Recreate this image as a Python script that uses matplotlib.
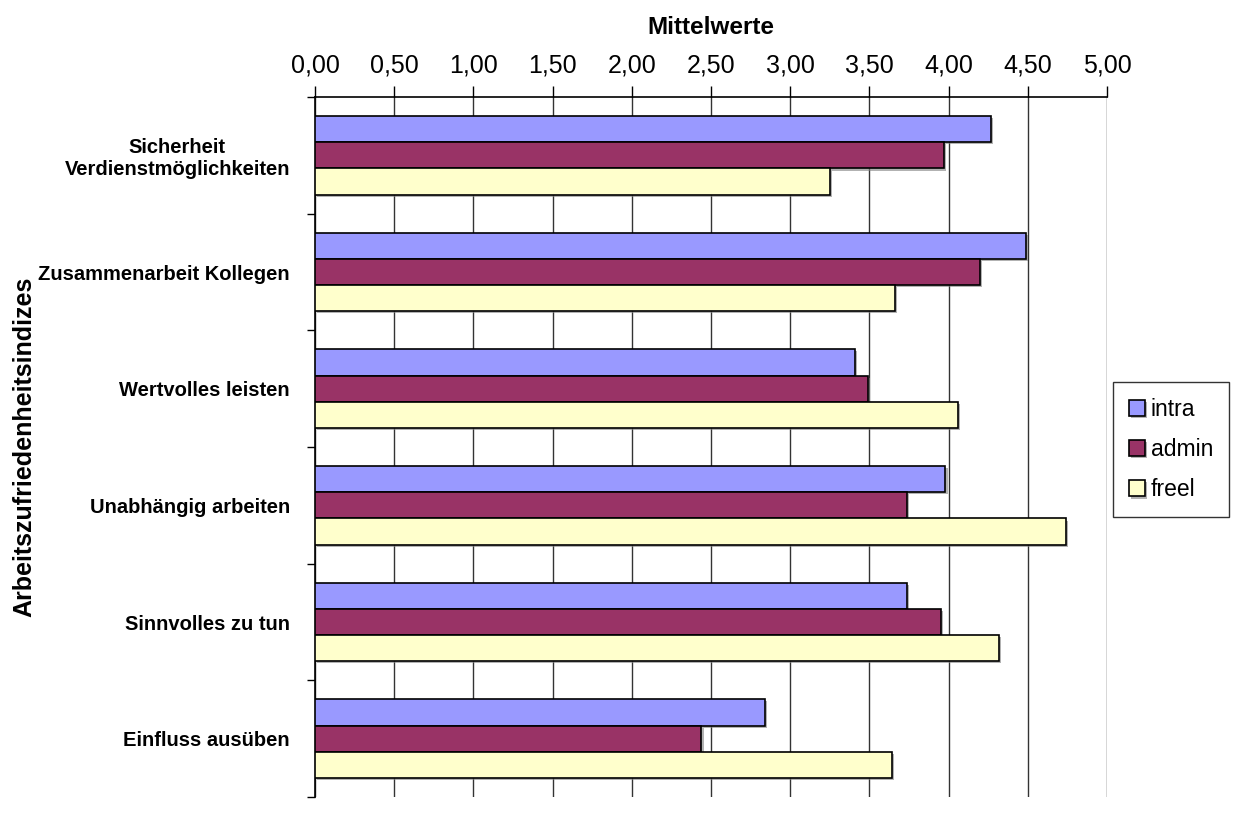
import matplotlib.pyplot as plt
import matplotlib.patheffects as pe
import numpy as np

plt.rcParams['font.family'] = ['Liberation Sans', 'DejaVu Sans']

# Arbeitszufriedenheitsindizes, Mittelwerte je Gruppe
kategorien = ["Sicherheit\nVerdienstmöglichkeiten", "Zusammenarbeit Kollegen",
              "Wertvolles leisten", "Unabhängig arbeiten",
              "Sinnvolles zu tun", "Einfluss ausüben"]
intra = [4.27, 4.49, 3.41, 3.98, 3.74, 2.84]
admin = [3.97, 4.20, 3.49, 3.74, 3.95, 2.44]
freel = [3.25, 3.66, 4.06, 4.74, 4.32, 3.64]

gruppen = ["intra", "admin", "freel"]
farben = ["#9999ff", "#993366", "#ffffcc"]

fig = plt.figure(figsize=(12.45, 8.14), dpi=100)
ax = fig.add_axes([315 / 1245, 17 / 814, 792 / 1245, 700 / 814])

y = np.arange(len(kategorien))
h = 0.225
schatten = [pe.SimplePatchShadow(offset=(1.5, -1.5), shadow_rgbFace="gray", alpha=0.6),
            pe.Normal()]
for i, (werte, name, farbe) in enumerate(zip([intra, admin, freel], gruppen, farben)):
    bars = ax.barh(y + (i - 1) * h, werte, height=h, color=farbe, edgecolor="black",
                   linewidth=1.2, label=name, zorder=3)
    for b in bars:
        b.set_path_effects(schatten)

ax.set_xlim(0, 5)
ax.set_ylim(len(kategorien) - 0.5, -0.5)
ticks = np.arange(0, 5.01, 0.5)
ax.set_xticks(ticks)
ax.set_xticklabels([f"{t:.2f}".replace(".", ",") for t in ticks], fontsize=18)
ax.xaxis.tick_top()
ax.xaxis.set_label_position("top")
ax.tick_params(axis="x", direction="out", length=8, width=1, color="black", pad=6)
ax.grid(axis="x", color="#333333", linewidth=1, zorder=0)

ax.set_yticks(y)
ax.set_yticklabels(kategorien, fontsize=14.5, fontweight="bold", ha="right",
                   multialignment="center")
ax.set_yticks(np.arange(-0.5, len(kategorien)), minor=True)
ax.tick_params(axis="y", which="major", length=0, pad=18)
ax.tick_params(axis="y", which="minor", direction="out", length=6, width=1)

for s in ["right", "bottom"]:
    ax.spines[s].set_visible(False)
ax.spines["top"].set_linewidth(1.2)
ax.spines["left"].set_linewidth(1.2)

ax.set_xlabel("Mittelwerte", fontsize=17.5, fontweight="bold", labelpad=14)
ax.set_ylabel("Arbeitszufriedenheitsindizes", fontsize=18, fontweight="bold")
ax.yaxis.set_label_coords(-279 / 792, 0.5)

leg = fig.legend(loc="upper left", bbox_to_anchor=(1113 / 1245, 1 - 382 / 814),
                 fontsize=16.5, frameon=True, fancybox=False, edgecolor="black",
                 handlelength=0.7, handleheight=0.7, handletextpad=0.25,
                 labelspacing=0.75, borderpad=0.7, borderaxespad=0)
leg.get_frame().set_linewidth(1)

fig.savefig("out.png", dpi=100)
